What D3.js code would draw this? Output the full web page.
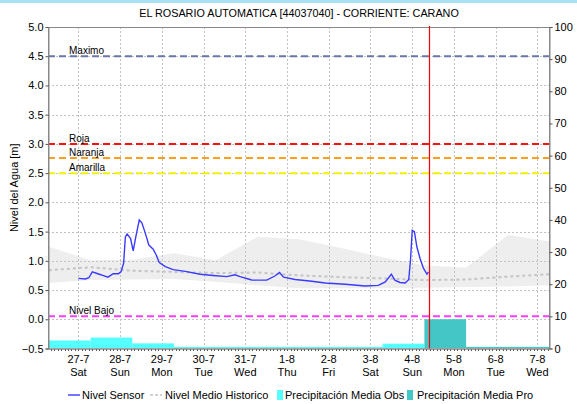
<!DOCTYPE html>
<html>
<head>
<meta charset="utf-8">
<script src="https://cdn.jsdelivr.net/npm/d3@7"></script>
<style>
  html, body { margin: 0; padding: 0; background: #ffffff; }
  svg { display: block; font-family: "Liberation Sans", Arial, sans-serif; }
</style>
</head>
<body>
<svg id="chart" width="577" height="404"></svg>
<script>
// ---- Data ----------------------------------------------------------------
const titleText = "EL ROSARIO AUTOMATICA [44037040] - CORRIENTE: CARANO";
const timeDomain = ["2024-07-26T06:30", "2024-08-07T07:15"];
const nowTime = "2024-08-04T09:40";

// Sensor water level [m]
const sensorLevel = [
  ["2024-07-27T00:00", 0.70], ["2024-07-27T04:00", 0.69], ["2024-07-27T06:00", 0.71],
  ["2024-07-27T08:00", 0.81], ["2024-07-27T12:00", 0.77], ["2024-07-27T14:00", 0.75],
  ["2024-07-27T17:00", 0.72], ["2024-07-27T20:00", 0.78], ["2024-07-27T23:00", 0.78],
  ["2024-07-28T00:30", 0.81], ["2024-07-28T02:00", 0.96], ["2024-07-28T03:00", 1.41],
  ["2024-07-28T04:00", 1.46], ["2024-07-28T06:00", 1.38], ["2024-07-28T07:30", 1.17],
  ["2024-07-28T09:00", 1.41], ["2024-07-28T11:00", 1.70], ["2024-07-28T12:30", 1.65],
  ["2024-07-28T14:30", 1.47], ["2024-07-28T16:30", 1.27], ["2024-07-28T19:00", 1.20],
  ["2024-07-28T20:45", 1.10], ["2024-07-28T22:30", 0.97], ["2024-07-29T02:00", 0.90],
  ["2024-07-29T06:30", 0.85], ["2024-07-29T13:30", 0.82], ["2024-07-29T22:00", 0.77],
  ["2024-07-30T05:30", 0.75], ["2024-07-30T13:20", 0.73], ["2024-07-30T18:00", 0.76],
  ["2024-07-30T21:00", 0.73], ["2024-07-31T02:45", 0.68], ["2024-07-31T03:45", 0.67],
  ["2024-07-31T12:20", 0.67], ["2024-07-31T17:00", 0.74], ["2024-07-31T19:40", 0.80],
  ["2024-07-31T22:00", 0.72], ["2024-08-01T04:40", 0.68], ["2024-08-01T14:15", 0.65],
  ["2024-08-01T22:00", 0.62], ["2024-08-02T09:30", 0.60], ["2024-08-02T21:00", 0.57],
  ["2024-08-03T04:30", 0.58], ["2024-08-03T08:30", 0.64], ["2024-08-03T12:00", 0.77],
  ["2024-08-03T14:00", 0.67], ["2024-08-03T17:00", 0.63], ["2024-08-03T20:00", 0.62],
  ["2024-08-03T22:00", 0.68], ["2024-08-03T23:00", 1.01], ["2024-08-04T00:00", 1.52],
  ["2024-08-04T01:15", 1.50], ["2024-08-04T02:40", 1.24], ["2024-08-04T04:30", 1.04],
  ["2024-08-04T06:30", 0.87], ["2024-08-04T08:30", 0.77], ["2024-08-04T09:20", 0.81]
];

// Historical daily statistics [m]
const histDates = ["2024-07-26T07:00", "2024-07-27T07:00", "2024-07-28T07:00", "2024-07-29T07:00",
  "2024-07-30T07:00", "2024-07-31T07:00", "2024-08-01T07:00", "2024-08-02T07:00",
  "2024-08-03T07:00", "2024-08-04T07:00", "2024-08-05T07:00", "2024-08-06T07:00",
  "2024-08-07T07:00"];
const histUpper = [1.24, 1.01, 1.02, 1.13, 1.01, 1.41, 1.37, 1.22, 1.06, 0.92, 0.88, 1.44, 1.33];
const histLower = [0.62, 0.67, 0.68, 0.69, 0.64, 0.58, 0.53, 0.53, 0.53, 0.54, 0.55, 0.56, 0.58];
const histMean  = [0.84, 0.89, 0.83, 0.81, 0.79, 0.80, 0.75, 0.72, 0.70, 0.67, 0.68, 0.73, 0.77];

// Daily precipitation [mm], each period starting at 07:00
const obsDates = ["2024-07-25T07:00", "2024-07-26T07:00", "2024-07-27T07:00", "2024-07-28T07:00",
  "2024-07-29T07:00", "2024-07-30T07:00", "2024-07-31T07:00", "2024-08-01T07:00",
  "2024-08-02T07:00", "2024-08-03T07:00"];
const obsPrecip = [8.9, 2.5, 3.4, 1.6, 0.5, 0.5, 0.5, 0.5, 0.5, 1.5];
const proDates = ["2024-08-04T07:00", "2024-08-05T07:00", "2024-08-06T07:00", "2024-08-07T07:00"];
const proPrecip = [9.1, 0.5, 0.5, 0.5];

// Alert thresholds [m]
const thresholdNames  = ["Maximo", "Roja", "Naranja", "Amarilla", "Nivel Bajo"];
const thresholdValues = [4.5, 3.0, 2.76, 2.5, 0.05];

const levelTicks = d3.range(-0.5, 5.01, 0.5);
const precipTicks = d3.range(0, 101, 10);
const legendLabels = ["Nivel Sensor", "Nivel Medio Historico", "Precipitación Media Obs", "Precipitación Media Pro"];

// ---- Styles --------------------------------------------------------------
const thresholdColors = { "Maximo": "#6b77a8", "Roja": "#ff1010", "Naranja": "#ff9f1c",
  "Amarilla": "#f2f200", "Nivel Bajo": "#ff3cff" };
const colSensor = "#3a3aff", colMean = "#c4c4c4", colBand = "#eeeeee";
const colObs = "#55ffff", colPro = "#45c6c6", colGrid = "#c2c2c2", colAxis = "#888888";
const colNow = "#ff0000";

// ---- Layout --------------------------------------------------------------
const svg = d3.select("#chart");
const M = { left: 48, right: 550, top: 27, bottom: 348.5 };
const parse = d3.isoParse;

const x = d3.scaleTime().domain(timeDomain.map(parse)).range([M.left, M.right]);
const yL = d3.scaleLinear().domain([-0.5, 5.0]).range([M.bottom, M.top]);
const yR = d3.scaleLinear().domain([0, 100]).range([M.bottom, M.top]);

// window strip at the top
svg.append("rect").attr("x", 0).attr("y", 0).attr("width", 577).attr("height", 3).attr("fill", "#a8e2f2");

svg.append("defs").append("clipPath").attr("id", "plotClip")
  .append("rect").attr("x", M.left).attr("y", M.top)
  .attr("width", M.right - M.left).attr("height", M.bottom - M.top);

const plot = svg.append("g").attr("clip-path", "url(#plotClip)");

// historical band
const histRows = histDates.map((d, i) => ({ t: parse(d), hi: histUpper[i], lo: histLower[i], m: histMean[i] }));
plot.append("path").datum(histRows)
  .attr("fill", colBand)
  .attr("d", d3.area().x(d => x(d.t)).y0(d => yL(d.lo)).y1(d => yL(d.hi)));

// grid
const dayTicks = d3.timeDay.range(parse("2024-07-27T00:00"), parse("2024-08-07T12:00"));
plot.append("g").selectAll("line").data(levelTicks).join("line")
  .attr("x1", M.left).attr("x2", M.right)
  .attr("y1", d => Math.round(yL(d)) + 0.5).attr("y2", d => Math.round(yL(d)) + 0.5)
  .attr("stroke", colGrid).attr("stroke-dasharray", "2,2");
plot.append("g").selectAll("line").data(dayTicks).join("line")
  .attr("x1", d => Math.round(x(d)) + 0.5).attr("x2", d => Math.round(x(d)) + 0.5)
  .attr("y1", M.top).attr("y2", M.bottom)
  .attr("stroke", colGrid).attr("stroke-dasharray", "2,2");

// precipitation bars
function drawBars(dates, vals, color) {
  const rows = dates.map((d, i) => ({ t0: parse(d), t1: d3.timeDay.offset(parse(d), 1), v: vals[i] }));
  plot.append("g").selectAll("rect").data(rows).join("rect")
    .attr("x", d => x(d.t0)).attr("width", d => x(d.t1) - x(d.t0))
    .attr("y", d => yR(d.v)).attr("height", d => yR(0) - yR(d.v))
    .attr("fill", color);
}
drawBars(obsDates, obsPrecip, colObs);
drawBars(proDates, proPrecip, colPro);

// historical mean
plot.append("path").datum(histRows)
  .attr("fill", "none").attr("stroke", colMean).attr("stroke-width", 2)
  .attr("stroke-dasharray", "3,3")
  .attr("d", d3.line().x(d => x(d.t)).y(d => yL(d.m)));

// thresholds
thresholdNames.forEach((name, i) => {
  const yy = yL(thresholdValues[i]);
  plot.append("line").attr("x1", M.left).attr("x2", M.right).attr("y1", yy).attr("y2", yy)
    .attr("stroke", thresholdColors[name]).attr("stroke-width", 2).attr("stroke-dasharray", "7,4");
  svg.append("text").attr("x", 69).attr("y", yy - 2).attr("font-size", 10).attr("fill", "#000")
    .text(name);
});

// sensor level
plot.append("path").datum(sensorLevel)
  .attr("fill", "none").attr("stroke", colSensor).attr("stroke-width", 1.4)
  .attr("d", d3.line().x(d => x(parse(d[0]))).y(d => yL(d[1])));

// frame
svg.append("rect").attr("x", M.left + 0.5).attr("y", M.top + 0.5)
  .attr("width", M.right - M.left - 1).attr("height", M.bottom - M.top)
  .attr("fill", "none").attr("stroke", colAxis);

// current time marker
const nowX = Math.round(x(parse(nowTime))) + 0.5;
svg.append("line").attr("x1", nowX).attr("x2", nowX)
  .attr("y1", M.top - 1).attr("y2", M.bottom)
  .style("stroke", colNow).style("stroke-width", "1.2px");

// left axis
const axL = svg.append("g").attr("transform", `translate(${M.left + 0.5},0)`)
  .call(d3.axisLeft(yL).tickValues(levelTicks).tickFormat(d3.format(".1f")).tickSize(3).tickPadding(2));
// right axis
const axR = svg.append("g").attr("transform", `translate(${M.right - 0.5},0)`)
  .call(d3.axisRight(yR).tickValues(precipTicks).tickSize(3).tickPadding(2));
// bottom axis: minor ticks and day labels
const axB = svg.append("g").attr("transform", `translate(0,${M.bottom + 0.5})`);
axB.selectAll("line.minor").data(d3.timeHour.every(2).range(x.domain()[0], x.domain()[1])).join("line")
  .attr("class", "minor").attr("x1", d => Math.round(x(d)) + 0.5).attr("x2", d => Math.round(x(d)) + 0.5)
  .attr("y1", 0).attr("y2", 2).attr("stroke", "#555");
axB.append("line").attr("x1", M.left).attr("x2", M.right).attr("stroke", colAxis);
const fmtDay = d3.timeFormat("%-d-%-m"), fmtWk = d3.timeFormat("%a");
const lab = axB.selectAll("text").data(dayTicks).join("text")
  .attr("text-anchor", "middle").attr("font-size", 11).attr("fill", "#000");
lab.append("tspan").attr("x", d => x(d)).attr("y", 14).text(d => fmtDay(d));
lab.append("tspan").attr("x", d => x(d)).attr("y", 27).text(d => fmtWk(d));

[axL, axR].forEach(a => {
  a.select(".domain").attr("stroke", colAxis);
  a.selectAll(".tick line").attr("stroke", "#555");
  a.selectAll(".tick text").attr("font-size", 11).attr("fill", "#000")
    .attr("font-family", "'Liberation Sans', Arial, sans-serif");
});

// axis title
svg.append("text").attr("transform", `translate(18,${(M.top + M.bottom) / 2}) rotate(-90)`)
  .attr("text-anchor", "middle").attr("font-size", 11).text("Nivel del Agua [m]");

// chart title
svg.append("text").attr("x", (M.left + M.right) / 2).attr("y", 17)
  .attr("text-anchor", "middle").attr("font-size", 10.8).text(titleText);

// legend
const lg = svg.append("g").attr("transform", "translate(0,395)").attr("font-size", 11);
const legendSwatchX = [68, 150, 277, 407];
const legendTextX = [82, 165, 285, 417];
legendLabels.forEach((name, i) => {
  const sx = legendSwatchX[i];
  if (i === 0) {
    lg.append("line").attr("x1", sx).attr("x2", sx + 12).attr("y1", 0).attr("y2", 0)
      .attr("stroke", colSensor).attr("stroke-width", 1.4);
  } else if (i === 1) {
    lg.append("line").attr("x1", sx).attr("x2", sx + 12).attr("y1", 0).attr("y2", 0)
      .attr("stroke", colMean).attr("stroke-width", 1.5).attr("stroke-dasharray", "3,2");
  } else {
    lg.append("rect").attr("x", sx).attr("y", -5).attr("width", 6).attr("height", 10)
      .attr("fill", i === 2 ? colObs : colPro);
  }
  lg.append("text").attr("x", legendTextX[i]).attr("y", 4).text(name);
});
</script>
</body>
</html>
